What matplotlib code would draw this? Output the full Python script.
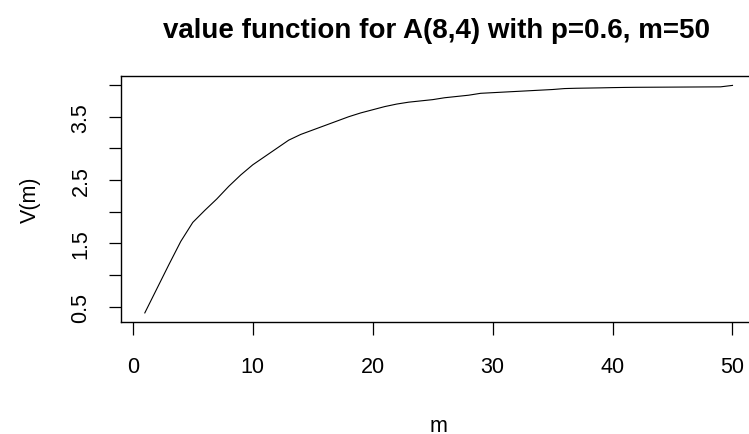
import matplotlib
matplotlib.use("Agg")
import matplotlib.pyplot as plt

plt.rcParams['font.family'] = ['Liberation Sans', 'DejaVu Sans']

# value function V(m) for m = 1..50
m_vals = list(range(1, 51))
v_vals = [0.40, 0.78, 1.16, 1.53, 1.83, 2.02, 2.20, 2.40, 2.58, 2.74,
          2.87, 3.00, 3.13, 3.22, 3.29, 3.36, 3.43, 3.50, 3.56, 3.61,
          3.66, 3.70, 3.73, 3.75, 3.77, 3.80, 3.82, 3.84, 3.87, 3.88,
          3.89, 3.90, 3.91, 3.92, 3.93, 3.945, 3.95, 3.953, 3.956, 3.96,
          3.963, 3.965, 3.966, 3.967, 3.968, 3.969, 3.97, 3.971, 3.972, 3.995]

x_ticks = [0, 10, 20, 30, 40, 50]
y_ticks = [0.5, 1.0, 1.5, 2.0, 2.5, 3.0, 3.5, 4.0]
y_labels = ["0.5", "", "1.5", "", "2.5", "", "3.5", ""]
title = "value function for A(8,4) with p=0.6, m=50"

fig = plt.figure(figsize=(7.49, 4.35), dpi=100)
ax = fig.add_axes([121.3 / 749, 1 - 323 / 435, (756 - 121.3) / 749, (323 - 77.3) / 435])

ax.plot(m_vals, v_vals, color="black", lw=0.8)
ax.margins(x=0.04, y=0.04)

ax.set_xticks(x_ticks)
ax.set_xticklabels([str(t) for t in x_ticks])
ax.set_yticks(y_ticks)
ax.set_yticklabels(y_labels, rotation=90, va="center")

for s in ax.spines.values():
    s.set_linewidth(1.0)
    s.set_color("black")

ax.tick_params(axis="both", direction="out", length=9.0, width=0.9,
               labelsize=15.5, colors="black")
ax.tick_params(axis="x", pad=15.5)
ax.tick_params(axis="y", pad=12.5)

ax.set_xlabel("m", fontsize=15.5, labelpad=27)
ax.set_ylabel("V(m)", fontsize=15.5, labelpad=21)
fig.text(0.583, 1 - 38 / 435, title, fontsize=20, fontweight="bold",
         ha="center", va="baseline")

fig.savefig("out.png", dpi=100, facecolor="white")
